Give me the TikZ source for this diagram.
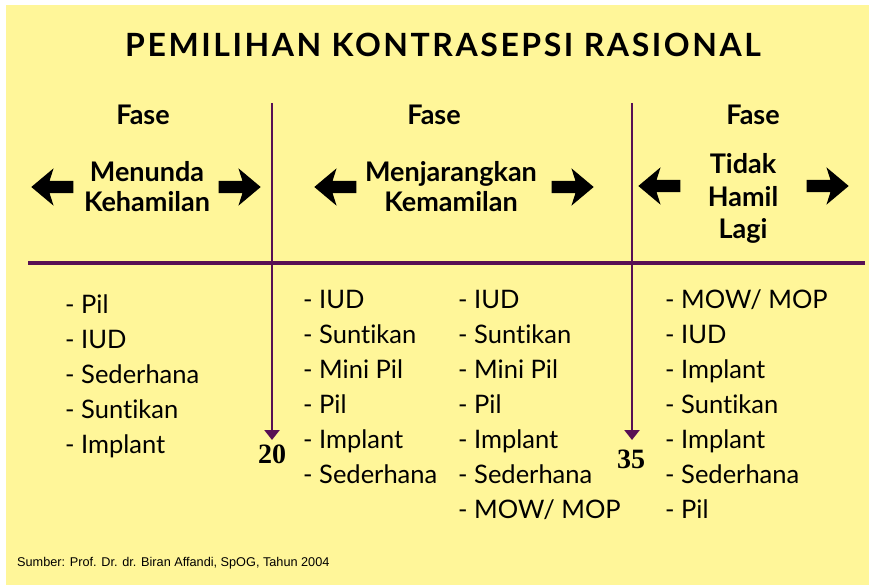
\documentclass[tikz,border=0pt]{standalone}
\usepackage{fontspec}
\setmainfont{Lato}[Ligatures=CommonOff]
\newfontfamily\sumberfont{Liberation Sans}
\newfontfamily\angkafont{Liberation Serif}
\newfontfamily\judulfont[LetterSpace=8]{Lato}
\usetikzlibrary{shapes.arrows,arrows.meta}
\definecolor{kuning}{RGB}{255,246,153}
\definecolor{ungu}{RGB}{88,16,84}

\begin{document}
\begin{tikzpicture}[x=1pt,y=-1pt,
  judul/.style={font=\judulfont\bfseries\fontsize{32}{36}\selectfont, anchor=base},
  fase/.style={font=\bfseries\fontsize{27}{30}\selectfont, anchor=base},
  label/.style={font=\bfseries\fontsize{27}{30}\selectfont, align=center, anchor=base},
  daftar/.style={font=\fontsize{25.5}{35}\selectfont, align=left, anchor=base west, inner sep=0pt},
  panahkiri/.style={single arrow, fill=black, inner sep=6pt, minimum height=42pt, single arrow head extend=12.5pt, single arrow head indent=4pt, single arrow tip angle=80, shape border rotate=180},
  panahkanan/.style={panahkiri, shape border rotate=0},
  garis/.style={ungu, line width=2.7pt},
  umur/.style={font=\angkafont\bfseries\fontsize{28}{30}\selectfont, anchor=base},
  sumber/.style={font=\sumberfont\fontsize{12.7}{14}\selectfont, anchor=base west, inner sep=0pt}
]
  \useasboundingbox[fill=white] (0,0) rectangle (869,585);
  \fill[kuning] (6,5) rectangle (869,585);

  \node[judul] (judul) at (443,57) {PEMILIHAN KONTRASEPSI RASIONAL};

  % garis pembagi
  \coordinate (v1atas) at (272,103);
  \coordinate (v1bawah) at (272,440);
  \coordinate (v2atas) at (632,103);
  \coordinate (v2bawah) at (632,440);
  \coordinate (hkiri) at (28,263);
  \coordinate (hkanan) at (865,263);
  \draw[ungu, line width=4.5pt] (hkiri) -- (hkanan);
  \draw[garis, -{Triangle[width=15pt,length=10pt]}] (v1atas) -- (v1bawah);
  \draw[garis, -{Triangle[width=15pt,length=10pt]}] (v2atas) -- (v2bawah);

  % fase 1
  \node[fase] (fase1) at (143,125) {Fase};
  \node[panahkiri] (kiri1) at (56,187) {};
  \node[label] (menunda) at (147,212) {Menunda\\Kehamilan};
  \node[panahkanan] (kanan1) at (236,187) {};

  % fase 2
  \node[fase] (fase2) at (434,125) {Fase};
  \node[panahkiri] (kiri2) at (339,187) {};
  \node[label] (menjarangkan) at (451,212) {Menjarangkan\\Kemamilan};
  \node[panahkanan] (kanan2) at (569,187) {};

  % fase 3
  \node[fase] (fase3) at (753,125) {Fase};
  \node[panahkiri] (kiri3) at (663,186) {};
  \node[label, font=\bfseries\fontsize{27}{32}\selectfont] (tidakhamil) at (743,238) {Tidak\\Hamil\\Lagi};
  \node[panahkanan] (kanan3) at (824,186) {};

  % umur
  \node[umur] (u20) at (272,463) {20};
  \node[umur] (u35) at (631,468) {35};

  % daftar kontrasepsi
  \node[daftar] (kol1) at (65,453) {- Pil\\- IUD\\- Sederhana\\- Suntikan\\- Implant};
  \node[daftar] (kol2) at (303,483) {- IUD\\- Suntikan\\- Mini Pil\\- Pil\\- Implant\\- Sederhana};
  \node[daftar] (kol3) at (458,518) {- IUD\\- Suntikan\\- Mini Pil\\- Pil\\- Implant\\- Sederhana\\- MOW/ MOP};
  \node[daftar] (kol4) at (665,518) {- MOW/ MOP\\- IUD\\- Implant\\- Suntikan\\- Implant\\- Sederhana\\- Pil};

  \node[sumber] (sumber) at (17,566) {Sumber: Prof. Dr. dr. Biran Affandi, SpOG, Tahun 2004};
\end{tikzpicture}
\end{document}
